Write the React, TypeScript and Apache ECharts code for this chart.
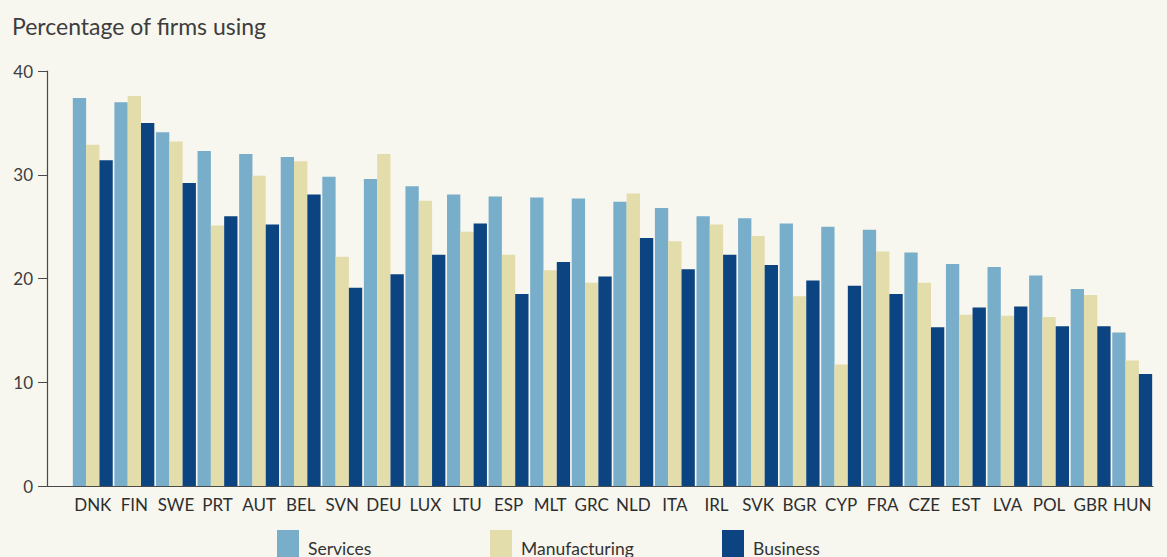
import React, { useEffect, useRef } from "react";
import * as echarts from "echarts";

// Country codes, ordered as shown along the x axis
const countries = [
  "DNK", "FIN", "SWE", "PRT", "AUT", "BEL", "SVN", "DEU", "LUX", "LTU",
  "ESP", "MLT", "GRC", "NLD", "ITA", "IRL", "SVK", "BGR", "CYP", "FRA",
  "CZE", "EST", "LVA", "POL", "GBR", "HUN",
];

// Percentage of firms using, by sector
const services = [
  37.4, 37.0, 34.1, 32.3, 32.0, 31.7, 29.8, 29.6, 28.9, 28.1,
  27.9, 27.8, 27.7, 27.4, 26.8, 26.0, 25.8, 25.3, 25.0, 24.7,
  22.5, 21.4, 21.1, 20.3, 19.0, 14.8,
];
const manufacturing = [
  32.9, 37.6, 33.2, 25.1, 29.9, 31.3, 22.1, 32.0, 27.5, 24.5,
  22.3, 20.8, 19.6, 28.2, 23.6, 25.2, 24.1, 18.3, 11.7, 22.6,
  19.6, 16.5, 16.4, 16.3, 18.4, 12.1,
];
const business = [
  31.4, 35.0, 29.2, 26.0, 25.2, 28.1, 19.1, 20.4, 22.3, 25.3,
  18.5, 21.6, 20.2, 23.9, 20.9, 22.3, 21.3, 19.8, 19.3, 18.5,
  15.3, 17.2, 17.3, 15.4, 15.4, 10.8,
];

const yTicks = { min: 0, max: 40, interval: 10 };

const FONT = "Lato, 'Open Sans', sans-serif";
const COLORS = {
  Services: "#79aecb",
  Manufacturing: "#e3dcab",
  Business: "#0b4481",
};

export default function App() {
  const ref = useRef<HTMLDivElement>(null);

  useEffect(() => {
    document.body.style.margin = "0";
    if (!ref.current) return;
    const chart = echarts.init(ref.current, undefined, { renderer: "svg" });

    const legendAt = (name: string, left: number) => ({
      data: [name],
      left,
      top: 525,
      itemWidth: 22,
      itemHeight: 36,
      icon: "rect",
      selectedMode: false,
      textStyle: {
        fontFamily: FONT,
        fontSize: 17.5,
        color: "#333",
        padding: [0, 0, 0, 4],
      },
    });

    chart.setOption({
      animation: false,
      backgroundColor: "#f7f6ef",
      textStyle: { fontFamily: FONT },
      title: {
        text: "Percentage of firms using",
        left: 7,
        top: 9,
        textStyle: {
          fontFamily: FONT,
          fontSize: 23,
          fontWeight: "normal",
          color: "#3d3d3d",
        },
      },
      legend: [
        legendAt("Services", 272),
        legendAt("Manufacturing", 485),
        legendAt("Business", 717),
      ],
      grid: [
        { left: 72, right: 14, top: 71, bottom: 71 },
        { left: 47, right: 14, top: 71, bottom: 71 },
      ],
      xAxis: [
        {
          type: "category",
          gridIndex: 0,
          data: countries,
          axisLine: { show: false },
          axisTick: { show: false },
          axisLabel: {
            interval: 0,
            margin: 10,
            fontFamily: FONT,
            fontSize: 17,
            color: "#2e2e2e",
          },
        },
        {
          // baseline running from the value axis to the last group
          type: "category",
          gridIndex: 1,
          data: countries,
          axisLine: { show: true, lineStyle: { color: "#4a4a4a", width: 1.2 } },
          axisTick: { show: false },
          axisLabel: { show: false },
        },
      ],
      yAxis: [
        {
          type: "value",
          gridIndex: 0,
          min: yTicks.min,
          max: yTicks.max,
          interval: yTicks.interval,
          offset: 25,
          axisLine: { show: true, lineStyle: { color: "#4a4a4a", width: 1.2 } },
          axisTick: { show: true, length: 9, lineStyle: { color: "#4a4a4a" } },
          splitLine: { show: false },
          axisLabel: {
            margin: 14,
            fontFamily: FONT,
            fontSize: 17,
            color: "#3d3d3d",
          },
        },
        {
          type: "value",
          gridIndex: 1,
          min: yTicks.min,
          max: yTicks.max,
          show: false,
        },
      ],
      series: [
        {
          name: "Services",
          type: "bar",
          data: services,
          barGap: "0%",
          barCategoryGap: "4%",
          itemStyle: { color: COLORS.Services },
        },
        {
          name: "Manufacturing",
          type: "bar",
          data: manufacturing,
          barGap: "0%",
          barCategoryGap: "4%",
          itemStyle: { color: COLORS.Manufacturing },
        },
        {
          name: "Business",
          type: "bar",
          data: business,
          barGap: "0%",
          barCategoryGap: "4%",
          itemStyle: { color: COLORS.Business },
        },
      ],
    });

    return () => chart.dispose();
  }, []);

  return (
    <div
      ref={ref}
      style={{ position: "fixed", left: 0, top: 0, width: 1167, height: 557 }}
    />
  );
}
